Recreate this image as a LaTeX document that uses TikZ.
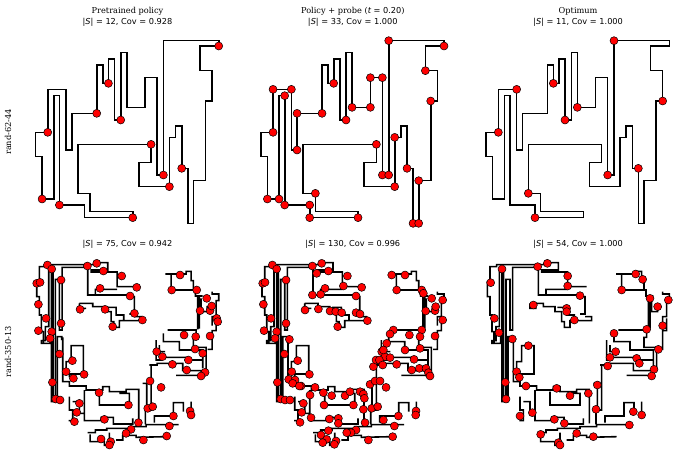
\documentclass[tikz,border=0pt]{standalone}
\usepackage{fontspec}
\setmainfont{DejaVu Serif}
\newfontfamily\mtxt{DejaVu Sans}
\usetikzlibrary{positioning}

% rand-62-44, panel units (3 units = 1px)
\newcommand{\roomA}{(432,32) -- (598,32) -- (598,48) -- (542,48) -- (542,122) -- (578,122) -- (578,213) -- (558,213) -- (558,452) -- (522,452) -- (522,580) -- (505,580) -- (505,415) -- (487,415) -- (487,288) -- (468,288) -- (468,322) -- (450,322) -- (450,470) -- (358,470) -- (358,398) -- (395,398) -- (395,343) -- (175,343) -- (175,490) -- (212,490) -- (212,545) -- (340,545) -- (340,563) -- (195,563) -- (195,525) -- (120,525) -- (120,197) -- (103,197) -- (103,507) -- (68,507) -- (68,380) -- (48,380) -- (48,307) -- (85,307) -- (85,178) -- (140,178) -- (140,360) -- (157,360) -- (157,250) -- (232,250) -- (232,105) -- (250,105) -- (250,160) -- (267,160) -- (267,87) -- (285,87) -- (285,270) -- (304,270) -- (304,68) -- (322,68) -- (322,232) -- (377,232) -- (377,143) -- (413,143) -- (413,435) -- (432,435) -- cycle}

% rand-350-13, same units
\newcommand{\roomB}{(72,278) -- (72,245) -- (66,245) -- (66,195) -- (60,195) -- (60,140) -- (52,140) -- (52,95) -- (60,95) -- (60,50) -- (80,50) -- (80,44) -- (232,44) -- (232,38) -- (265,38) -- (265,60) -- (215,60) -- (215,66) -- (293,66) -- (293,110) -- (350,110)
  (128,52) -- (200,52)
  (205,48) -- (205,135) -- (330,135) -- (330,140) -- (345,140) -- (345,192) -- (330,192)
  (228,132) -- (228,118) -- (293,118)
  (180,160) -- (220,160) -- (220,170) -- (255,170) -- (255,185) -- (275,185) -- (275,215) -- (283,215) -- (283,232) -- (300,232) -- (300,212) -- (365,212) -- (365,200) -- (345,200)
  (313,210) -- (313,195) -- (290,195) -- (290,172) -- (262,172)
  (180,160) -- (180,175) -- (200,175)
  (88,60) -- (88,230) -- (78,230) -- (78,272) -- (66,272) -- (66,280) -- (92,280) -- (92,250)
  (96,55) -- (96,455) -- (114,455) -- (114,260) -- (127,260) -- (127,270)
  (101,62) -- (101,440)
  (128,50) -- (128,240) -- (120,240) -- (120,88) -- (108,88) -- (108,445)
  (130,262) -- (130,395) -- (150,395) -- (150,408) -- (200,408) -- (200,420) -- (250,420) -- (250,410) -- (270,410) -- (270,425) -- (320,425) -- (320,418) -- (358,418) -- (358,520)
  (140,365) -- (140,335) -- (155,335) -- (155,287) -- (192,287) -- (192,372) -- (150,372) -- (150,382)
  (240,425) -- (240,465) -- (330,465) -- (330,430) -- (300,430)
  (195,420) -- (195,512) -- (245,512) -- (245,502) -- (282,502) -- (282,522) -- (340,522) -- (340,505)
  (150,440) -- (150,480) -- (160,480) -- (160,512) -- (148,512)
  (160,455) -- (180,455) -- (180,490) -- (195,490)
  (205,548) -- (228,548) -- (228,540) -- (262,540) -- (262,535) -- (330,535) -- (330,530) -- (380,530) -- (380,524) -- (478,524)
  (212,553) -- (212,575) -- (255,575) -- (255,586) -- (270,586) -- (270,548)
  (290,570) -- (310,570) -- (310,556) -- (350,556) -- (350,562) -- (440,560)
  (320,550) -- (320,542)
  (405,518) -- (405,498) -- (462,498) -- (462,458) -- (492,458) -- (492,485)
  (515,455) -- (515,498)
  (395,348) -- (395,480) -- (378,480) -- (378,523)
  (370,400) -- (382,400) -- (382,470)
  (390,345) -- (413,345) -- (413,340) -- (490,340) -- (490,362) -- (545,362) -- (545,380)
  (470,376) -- (545,376)
  (410,270) -- (410,330) -- (425,330) -- (425,322) -- (500,322) -- (500,330) -- (548,330)
  (432,250) -- (432,275) -- (480,275) -- (480,300) -- (550,300) -- (550,355)
  (445,240) -- (530,240) -- (530,262) -- (522,262) -- (522,292) -- (560,292) -- (560,360) -- (552,360)
  (437,305) -- (420,305) -- (420,285)
  (565,298) -- (578,298) -- (578,242) -- (590,242) -- (590,205)
  (578,227) -- (578,200) -- (590,200) -- (590,152) -- (598,152) -- (598,132) -- (578,132) -- (578,125)
  (535,140) -- (535,238)
  (540,140) -- (540,236)
  (545,145) -- (545,185) -- (563,185) -- (563,170) -- (575,170)
  (455,72) -- (455,120) -- (528,120) -- (528,138) -- (550,138)
  (438,72) -- (500,72) -- (500,64) -- (515,64) -- (515,92) -- (522,92) -- (522,120)}

% guard positions
\newcommand{\gdAa}{(598,48),(267,160),(232,250),(304,270),(85,307),(395,343),(432,435),(450,470),(487,415),(68,507),(120,525),(340,563)}
\newcommand{\gdAb}{(432,32),(598,48),(542,122),(558,213),(522,452),(505,580),(522,580),(487,415),(450,322),(450,470),(413,435),(432,435),(413,143),(377,143),(377,232),(322,232),(304,270),(267,160),(232,250),(157,250),(157,360),(140,178),(85,178),(85,307),(68,507),(103,507),(120,197),(120,525),(195,525),(195,563),(340,563),(212,490),(395,343)}
\newcommand{\gdAc}{(432,32),(140,178),(250,160),(322,232),(285,270),(85,307),(578,213),(413,435),(505,415),(175,490),(195,563)}
\newcommand{\gdBa}{(84,45),(97,57),(52,100),(62,97),(125,90),(204,48),(232,40),(252,63),(307,78),(352,112),(242,115),(332,138),(182,178),(257,178),(345,190),(369,210),(280,230),(57,163),(80,205),(57,242),(97,245),(92,265),(125,220),(120,312),(159,332),(140,365),(162,385),(194,373),(99,397),(109,447),(122,450),(239,428),(327,465),(180,460),(172,487),(165,515),(255,508),(357,518),(335,538),(320,550),(245,567),(274,575),(270,585),(372,570),(442,558),(385,475),(400,470),(462,498),(450,528),(512,483),(515,495),(392,393),(425,412),(412,305),(429,320),(459,343),(502,360),(507,330),(550,310),(557,367),(545,378),(527,297),(529,260),(494,255),(572,258),(592,205),(595,215),(542,182),(572,182),(577,168),(562,145),(532,120),(457,120),(482,75)}
\newcommand{\gdBb}{(83,45),(96,57),(54,100),(61,97),(124,90),(203,48),(231,40),(216,70),(251,63),(308,78),(296,108),(351,112),(241,115),(228,133),(203,135),(334,138),(181,180),(221,177),(256,183),(273,185),(291,188),(334,188),(346,192),(368,212),(279,230),(56,163),(79,205),(58,242),(96,245),(91,265),(124,220),(134,268),(119,312),(159,332),(141,365),(194,373),(132,388),(151,390),(169,408),(98,397),(108,447),(121,450),(136,450),(211,412),(196,435),(236,428),(261,437),(301,437),(316,425),(346,425),(356,432),(359,445),(326,465),(238,465),(176,460),(171,487),(166,517),(199,503),(254,507),(281,505),(281,520),(361,518),(356,478),(334,540),(319,548),(306,548),(229,555),(251,542),(246,568),(274,573),(269,583),(234,578),(371,570),(444,560),(381,475),(399,470),(416,510),(449,528),(461,498),(514,483),(513,495),(376,403),(391,393),(406,393),(424,412),(386,350),(394,330),(411,305),(421,320),(436,323),(456,343),(501,360),(508,328),(481,300),(526,295),(524,355),(544,355),(551,368),(556,378),(494,255),(446,240),(436,252),(426,280),(531,240),(526,260),(571,258),(594,210),(571,182),(573,170),(543,183),(561,145),(594,150),(531,120),(536,130),(456,120),(441,75),(481,75),(416,300),(404,330),(414,345),(144,400),(164,408)}
\newcommand{\gdBc}{(96,57),(203,50),(232,40),(62,98),(293,78),(293,108),(330,137),(190,165),(290,175),(290,185),(313,210),(73,205),(87,248),(127,267),(175,287),(140,365),(148,382),(106,397),(108,447),(168,408),(260,415),(300,437),(355,430),(150,498),(187,488),(253,508),(283,520),(212,553),(265,578),(270,585),(320,550),(370,560),(382,405),(378,478),(413,348),(420,322),(437,305),(500,325),(508,340),(552,358),(545,378),(432,250),(530,238),(565,298),(578,227),(540,145),(563,170),(595,150),(497,72),(518,88),(455,120),(478,525),(490,485),(515,495)}

\begin{document}
\begin{tikzpicture}[x=1pt,y=-1pt,
    wall/.style={line width=1.6pt},
    guard/.style={circle,draw=black,line width=0.5pt,fill=red,minimum size=8pt,inner sep=0pt},
    ttl/.style={font=\fontsize{8.2}{9.5}\selectfont,anchor=base},
    rowlab/.style={font=\fontsize{8.2}{9.5}\selectfont,rotate=90}]
  \useasboundingbox (0,0) rectangle (679,456);

  % titles
  \node[ttl] (t1) at (127.5,13.5) {Pretrained policy};
  \node[ttl] (s1) at (127.5,24) {\mtxt|\textit{S}| = 12, Cov = 0.928};
  \node[ttl] (t2) at (352.8,13.5) {Policy + probe ({\mtxt\itshape t} {\mtxt = 0.20})};
  \node[ttl] (s2) at (352.8,24) {\mtxt|\textit{S}| = 33, Cov = 1.000};
  \node[ttl] (t3) at (578.1,13.5) {Optimum};
  \node[ttl] (s3) at (578.1,24) {\mtxt|\textit{S}| = 11, Cov = 1.000};
  \node[ttl] (s4) at (127.5,246) {\mtxt|\textit{S}| = 75, Cov = 0.942};
  \node[ttl] (s5) at (352.8,246) {\mtxt|\textit{S}| = 130, Cov = 0.996};
  \node[ttl] (s6) at (578.1,246) {\mtxt|\textit{S}| = 54, Cov = 1.000};
  \node[rowlab] (r1) at (8,132) {rand-62-44};
  \node[rowlab] (r2) at (8,352) {rand-350-13};

  % top row
  \begin{scope}[shift={(19.4,30)},scale=1/3]
    \draw[wall] \roomA;
    \foreach \p [count=\i] in \gdAa {\node[guard] (pa\i) at \p {};}
  \end{scope}
  \begin{scope}[shift={(244.7,30)},scale=1/3]
    \draw[wall] \roomA;
    \foreach \p [count=\i] in \gdAb {\node[guard] (pb\i) at \p {};}
  \end{scope}
  \begin{scope}[shift={(470,30)},scale=1/3]
    \draw[wall] \roomA;
    \foreach \p [count=\i] in \gdAc {\node[guard] (pc\i) at \p {};}
  \end{scope}

  % bottom row
  \begin{scope}[shift={(19.4,250)},scale=1/3]
    \draw[wall] \roomB;
    \foreach \p [count=\i] in \gdBa {\node[guard] (qa\i) at \p {};}
  \end{scope}
  \begin{scope}[shift={(244.7,250)},scale=1/3]
    \draw[wall] \roomB;
    \foreach \p [count=\i] in \gdBb {\node[guard] (qb\i) at \p {};}
  \end{scope}
  \begin{scope}[shift={(470,250)},scale=1/3]
    \draw[wall] \roomB;
    \foreach \p [count=\i] in \gdBc {\node[guard] (qc\i) at \p {};}
  \end{scope}
\end{tikzpicture}
\end{document}
